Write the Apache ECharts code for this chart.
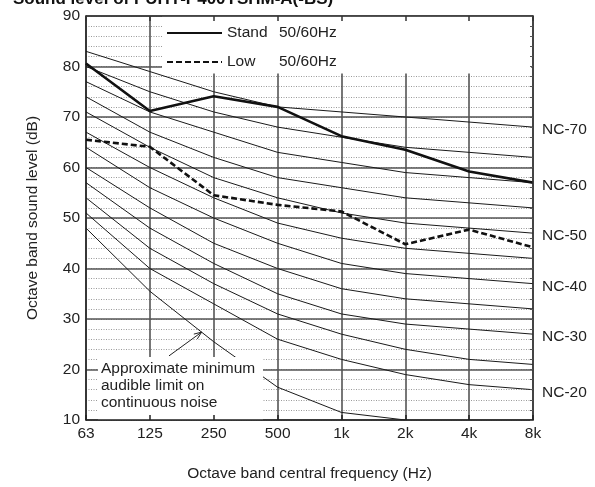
<!DOCTYPE html>
<html><head><meta charset="utf-8">
<script src="https://cdn.jsdelivr.net/npm/echarts@6/dist/echarts.min.js"></script>
<style>html,body{margin:0;padding:0;background:#fff}#c{width:595px;height:487px}</style>
</head><body><div id="c"></div>
<script>
// ---- data ----
const categories = ['63', '125', '250', '500', '1k', '2k', '4k', '8k'];
const yTickLabels = [10, 20, 30, 40, 50, 60, 70, 80, 90];
const standValues = [80.6, 71.2, 74.1, 72.0, 66.2, 63.5, 59.2, 57.0];
const lowValues   = [65.5, 64.1, 54.5, 52.6, 51.3, 44.8, 47.7, 44.2];
const nc20 = [51, 40, 33, 26, 22, 19, 17, 16];
const nc25 = [54, 44, 37, 31, 27, 24, 22, 21];
const nc30 = [57, 48, 41, 35, 31, 29, 28, 27];
const nc35 = [60, 52, 45, 40, 36, 34, 33, 32];
const nc40 = [64, 56, 50, 45, 41, 39, 38, 37];
const nc45 = [67, 60, 54, 49, 46, 44, 43, 42];
const nc50 = [71, 64, 58, 54, 51, 49, 48, 47];
const nc55 = [74, 67, 62, 58, 56, 54, 53, 52];
const nc60 = [77, 71, 67, 63, 61, 59, 58, 57];
const nc65 = [80, 75, 71, 68, 66, 64, 63, 62];
const nc70 = [83, 79, 75, 72, 71, 70, 69, 68];
const audibleLimit = [48, 35.5, 25.5, 16.5, 11.5, 10, null, null];
const ncNames = ['NC-20','NC-25','NC-30','NC-35','NC-40','NC-45','NC-50','NC-55','NC-60','NC-65','NC-70'];
const ncLabeled = ['NC-20','NC-30','NC-40','NC-50','NC-60','NC-70'];
const legendSuffix = '50/60Hz';
const titleText = 'Sound level of PUHY-P400YSHM-A(-BS)';
const xName = 'Octave band central frequency (Hz)';
const yName = 'Octave band sound level (dB)';
const noteLines = ['Approximate minimum', 'audible limit on', 'continuous noise'];

// ---- chart ----
const FONT = "'Liberation Sans', Arial, sans-serif";
const FS = 15.5;
const TXT = '#222';
const ncData = [nc20, nc25, nc30, nc35, nc40, nc45, nc50, nc55, nc60, nc65, nc70];

const chart = echarts.init(document.getElementById('c'), null, {renderer: 'canvas'});

const series = [];
ncData.forEach((d, i) => {
  const nm = ncNames[i];
  series.push({
    name: nm, type: 'line', data: d, symbol: 'none', silent: true, z: 2,
    lineStyle: {color: '#1a1a1a', width: 1},
    endLabel: {
      show: ncLabeled.includes(nm), formatter: nm, distance: 9, offset: [0, 3],
      fontFamily: FONT, fontSize: FS, color: TXT
    }
  });
});
series.push({
  name: 'audible', type: 'line', data: audibleLimit, symbol: 'none', silent: true, z: 2,
  lineStyle: {color: '#1a1a1a', width: 1}
});
series.push({
  name: 'Stand', type: 'line', data: standValues, symbol: 'none', z: 3,
  lineStyle: {color: '#111', width: 2.6}, itemStyle: {color: '#111'}
});
series.push({
  name: 'Low', type: 'line', data: lowValues, symbol: 'none', z: 3,
  lineStyle: {color: '#111', width: 2.6, type: [6, 3]}, itemStyle: {color: '#111'}
});

const baseX = {type: 'category', data: categories, boundaryGap: false, gridIndex: 0};

const option = {
  animation: false,
  backgroundColor: '#fff',
  textStyle: {fontFamily: FONT},
  grid: {left: 86, right: 62, top: 16, bottom: 66, containLabel: false},
  xAxis: [
    Object.assign({}, baseX, {
      position: 'bottom', z: 0,
      name: xName, nameLocation: 'middle', nameGap: 46,
      nameTextStyle: {fontFamily: FONT, fontSize: FS, color: TXT},
      axisLine: {show: false}, axisTick: {show: false},
      axisLabel: {fontFamily: FONT, fontSize: FS, color: TXT, margin: 6, interval: 0},
      splitLine: {show: true, lineStyle: {color: '#4a4a4a', width: 1.5}}
    }),
    Object.assign({}, baseX, {
      position: 'top', z: 6,
      axisLine: {show: true, lineStyle: {color: '#333', width: 1.5}},
      axisTick: {show: true, inside: true, length: 5, lineStyle: {color: '#333', width: 1.5}},
      axisLabel: {show: false}, splitLine: {show: false}
    }),
    Object.assign({}, baseX, {
      position: 'bottom', z: 6,
      axisLine: {show: true, lineStyle: {color: '#222', width: 1.5}},
      axisTick: {show: true, inside: true, length: 5, lineStyle: {color: '#222', width: 1.5}},
      axisLabel: {show: false}, splitLine: {show: false}
    })
  ],
  yAxis: [
    {
      type: 'value', position: 'left', min: 10, max: 90, interval: 2, z: 0,
      axisLine: {show: false}, axisTick: {show: false}, axisLabel: {show: false},
      splitLine: {show: true, lineStyle: {color: '#9a9a9a', width: 1, type: [1, 1.5]}}
    },
    {
      type: 'value', position: 'left', min: 10, max: 90, interval: 10, z: 1,
      name: yName, nameLocation: 'middle', nameGap: 45, nameRotate: 90,
      nameTextStyle: {fontFamily: FONT, fontSize: FS, color: TXT},
      axisLine: {show: true, lineStyle: {color: '#222', width: 1.5}},
      axisTick: {show: false},
      axisLabel: {fontFamily: FONT, fontSize: FS, color: TXT, margin: 6,
        formatter: v => yTickLabels.includes(v) ? String(v) : ''},
      splitLine: {show: true, lineStyle: {color: '#555', width: 1.5}}
    },
    {
      type: 'value', position: 'right', min: 10, max: 90, interval: 2, z: 6,
      axisLine: {show: true, lineStyle: {color: '#333', width: 1.5}},
      axisTick: {show: true, inside: true, length: 3, lineStyle: {color: '#555', width: 1}},
      axisLabel: {show: false}, splitLine: {show: false}
    }
  ],
  legend: {
    data: ['Stand', 'Low'], orient: 'vertical', left: 161, top: 20, z: 7,
    itemWidth: 55, itemHeight: 14, itemGap: 13, selectedMode: false,
    itemStyle: {opacity: 0},
    textStyle: {fontFamily: FONT, fontSize: FS, color: TXT,
      rich: {a: {width: 52, fontFamily: FONT, fontSize: FS, color: TXT},
             b: {fontFamily: FONT, fontSize: FS, color: TXT}}},
    formatter: n => `{a|${n}}{b|${legendSuffix}}`
  },
  series: series,
  graphic: [
    {type: 'rect', id: 'legendBox', z: 4, silent: true,
      shape: {x: 162, y: 16.5, width: 369, height: 57}, style: {fill: '#fff'}},
    {type: 'rect', id: 'noteBox', z: 4, silent: true,
      shape: {x: 98, y: 357, width: 165, height: 63}, style: {fill: '#fff'}},
    {type: 'text', id: 'note', z: 7, silent: true, x: 101, y: 360.5,
      style: {text: noteLines.join('\n'), fontFamily: FONT, fontSize: FS, lineHeight: 17, fill: TXT}},
    {type: 'text', id: 'title', z: 7, silent: true, x: 13, y: -9,
      style: {text: titleText, fontFamily: FONT, fontSize: 17, fontWeight: 'bold', fill: '#111'}}
  ]
};
chart.setOption(option);

// arrow pointing at the audible-limit curve (between 125 and 250 Hz)
const p1 = chart.convertToPixel({xAxisIndex: 0, yAxisIndex: 0}, [categories[1], audibleLimit[1]]);
const p2 = chart.convertToPixel({xAxisIndex: 0, yAxisIndex: 0}, [categories[2], audibleLimit[2]]);
const t = 0.81;
const tip = [p1[0] + t * (p2[0] - p1[0]), p1[1] + t * (p2[1] - p1[1])];
const tailY = chart.convertToPixel({yAxisIndex: 0}, 22.7);
const tail = [p1[0] + 0.3 * (p2[0] - p1[0]), tailY];
const ang = Math.atan2(tip[1] - tail[1], tip[0] - tail[0]);
const hl = 8, ha = 0.38;
const h1 = [tip[0] - hl * Math.cos(ang - ha), tip[1] - hl * Math.sin(ang - ha)];
const h2 = [tip[0] - hl * Math.cos(ang + ha), tip[1] - hl * Math.sin(ang + ha)];
chart.setOption({graphic: [
  {type: 'line', id: 'arrowShaft', z: 7, silent: true,
    shape: {x1: tail[0], y1: tail[1], x2: tip[0], y2: tip[1]}, style: {stroke: '#222', lineWidth: 1}},
  {type: 'polyline', id: 'arrowHead', z: 7, silent: true,
    shape: {points: [h1, tip, h2]}, style: {stroke: '#222', lineWidth: 1, fill: null}}
]});
</script>
</body></html>
